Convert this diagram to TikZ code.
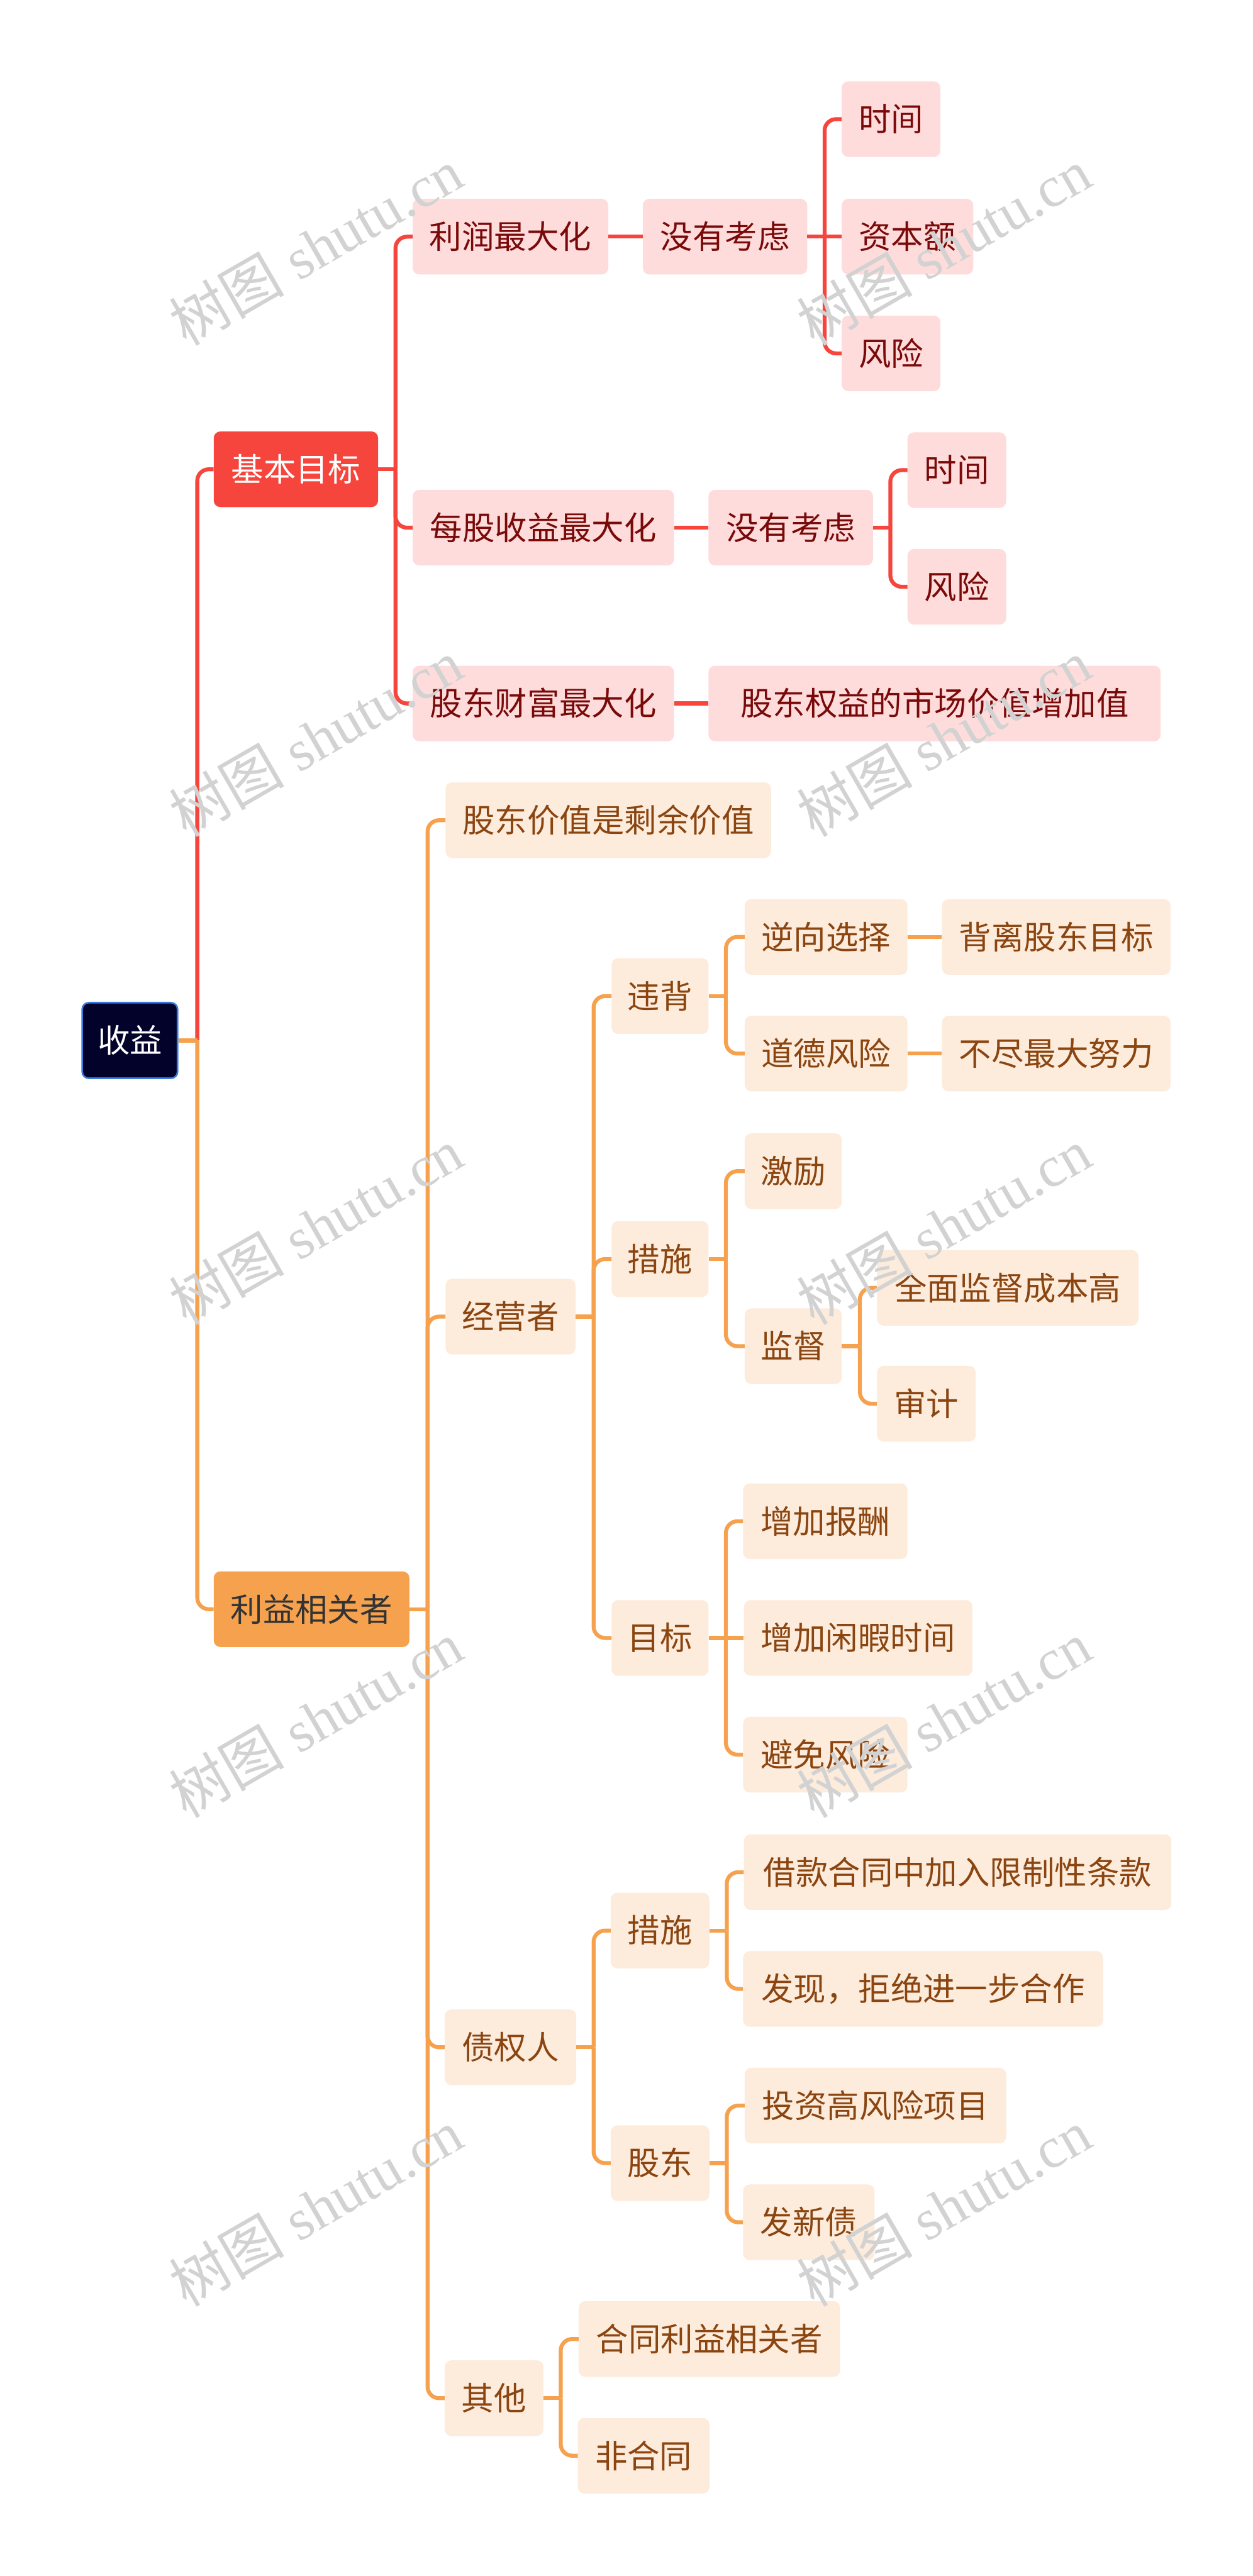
\documentclass[tikz,border=0pt]{standalone}
\usepackage{fontspec}
\newfontfamily\cjk{Noto Sans CJK SC}
\newfontfamily\wmlat{Liberation Serif}
\definecolor{rootfill}{HTML}{02022B}
\definecolor{rootborder}{HTML}{3B7BE0}
\definecolor{redc}{HTML}{F5453D}
\definecolor{pinkfill}{HTML}{FDDCDB}
\definecolor{darkred}{HTML}{7A0A0A}
\definecolor{orangec}{HTML}{F5A14E}
\definecolor{peach}{HTML}{FDEBDC}
\definecolor{browntext}{HTML}{8A4510}
\definecolor{maintext}{HTML}{333333}
\definecolor{wmgray}{HTML}{D2D2D2}
\tikzset{
  base/.style={rounded corners=4mm, minimum height=46mm, inner sep=0pt,
    font=\cjk\fontsize{56}{60}\selectfont, text height=49pt, text depth=7pt},
  rootbox/.style={base, fill=rootfill, draw=rootborder, line width=1mm, text=white},
  redmain/.style={base, fill=redc, text=white},
  pinkbox/.style={base, fill=pinkfill, text=darkred},
  orangemain/.style={base, fill=orangec, text=maintext},
  peachbox/.style={base, fill=peach, text=browntext},
  rline/.style={draw=redc, line width=2.4mm, rounded corners=7mm},
  oline/.style={draw=orangec, line width=2.4mm, rounded corners=7mm},
  wm/.style={text=wmgray, rotate=30, inner sep=0pt},
}
\begin{document}
\begin{tikzpicture}[x=1mm, y=-1mm]
\useasboundingbox (0,0) rectangle (762,1567.2);
% root and main branches
\node[rootbox, minimum width=58mm] (root) at (79,633) {收益};
\node[redmain, minimum width=100mm] (jbmb) at (180,285.5) {基本目标};
\node[orangemain, minimum width=119mm] (lyxg) at (189.5,979) {利益相关者};
% red branch
\node[pinkbox, minimum width=119mm] (lrzd) at (310.5,144) {利润最大化};
\node[pinkbox, minimum width=159mm] (mgsy) at (330.5,321) {每股收益最大化};
\node[pinkbox, minimum width=159mm] (gdcf) at (330.5,428) {股东财富最大化};
\node[pinkbox, minimum width=100mm] (mykl1) at (441,144) {没有考虑};
\node[pinkbox, minimum width=60mm] (sj1) at (542,72.5) {时间};
\node[pinkbox, minimum width=80mm] (zbe) at (552,144) {资本额};
\node[pinkbox, minimum width=60mm] (fx1) at (542,215) {风险};
\node[pinkbox, minimum width=100mm] (mykl2) at (481,321) {没有考虑};
\node[pinkbox, minimum width=60mm] (sj2) at (582,286) {时间};
\node[pinkbox, minimum width=60mm] (fx2) at (582,357) {风险};
\node[pinkbox, minimum width=275mm] (gdqy) at (568.5,428) {股东权益的市场价值增加值};
% orange branch
\node[peachbox, minimum width=198mm] (gdjz) at (370,499) {股东价值是剩余价值};
\node[peachbox, minimum width=79mm] (jyz) at (310.5,801) {经营者};
\node[peachbox, minimum width=80mm] (zqr) at (310.5,1245.5) {债权人};
\node[peachbox, minimum width=60mm] (qt) at (300.5,1459) {其他};
\node[peachbox, minimum width=59mm] (wb) at (401.5,606) {违背};
\node[peachbox, minimum width=59mm] (cs1) at (401.5,766) {措施};
\node[peachbox, minimum width=59mm] (mb) at (401.5,996.5) {目标};
\node[peachbox, minimum width=99mm] (nxxz) at (502.5,570) {逆向选择};
\node[peachbox, minimum width=139mm] (blgd) at (642.5,570) {背离股东目标};
\node[peachbox, minimum width=99mm] (ddfx) at (502.5,641) {道德风险};
\node[peachbox, minimum width=139mm] (bjzd) at (642.5,641) {不尽最大努力};
\node[peachbox, minimum width=59mm] (jl) at (482.5,712.5) {激励};
\node[peachbox, minimum width=59mm] (jd) at (482.5,819) {监督};
\node[peachbox, minimum width=159mm] (qmjd) at (613,783.5) {全面监督成本高};
\node[peachbox, minimum width=60mm] (shj) at (563.5,854) {审计};
\node[peachbox, minimum width=100mm] (zjbc) at (502,925.5) {增加报酬};
\node[peachbox, minimum width=139mm] (zjxx) at (522,996.5) {增加闲暇时间};
\node[peachbox, minimum width=100mm] (bmfx) at (502,1067.5) {避免风险};
\node[peachbox, minimum width=60mm] (cs2) at (401.5,1174.5) {措施};
\node[peachbox, minimum width=60mm] (gd) at (401.5,1316) {股东};
\node[peachbox, minimum width=260mm] (jkht) at (582.5,1139) {借款合同中加入限制性条款};
\node[peachbox, minimum width=219mm] (fxjj) at (561.5,1210) {发现，拒绝进一步合作};
\node[peachbox, minimum width=159mm] (tzgf) at (532.5,1281) {投资高风险项目};
\node[peachbox, minimum width=80mm] (fxz) at (492,1352) {发新债};
\node[peachbox, minimum width=159mm] (htly) at (431.5,1423) {合同利益相关者};
\node[peachbox, minimum width=80mm] (fht) at (391.5,1494) {非合同};
% junction coordinates
\coordinate (T0) at ([xshift=11.5mm]root.east);
\coordinate (T1) at ([xshift=10.5mm]jbmb.east);
\coordinate (T2) at ([xshift=10.5mm]mykl1.east);
\coordinate (T3) at ([xshift=10.5mm]mykl2.east);
\coordinate (T4) at ([xshift=11mm]lyxg.east);
\coordinate (T5) at ([xshift=11mm]jyz.east);
\coordinate (T6) at ([xshift=10.5mm]wb.east);
\coordinate (T7) at ([xshift=10.5mm]cs1.east);
\coordinate (T8) at ([xshift=11mm]jd.east);
\coordinate (T9) at ([xshift=10.5mm]mb.east);
\coordinate (T10) at ([xshift=10.5mm]zqr.east);
\coordinate (T11) at ([xshift=10.5mm]cs2.east);
\coordinate (T12) at ([xshift=10.5mm]gd.east);
\coordinate (T13) at ([xshift=10.5mm]qt.east);
% red connectors
\draw[rline] (T0) |- (jbmb.west);
\draw[rline] (jbmb.east) -- (T1);
\draw[rline] (T1) |- (lrzd.west);
\draw[rline] (T1) |- (mgsy.west);
\draw[rline] (T1) |- (gdcf.west);
\draw[rline] (lrzd.east) -- (mykl1.west);
\draw[rline] (mykl1.east) -- (zbe.west);
\draw[rline] (T2) |- (sj1.west);
\draw[rline] (T2) |- (fx1.west);
\draw[rline] (mgsy.east) -- (mykl2.west);
\draw[rline] (mykl2.east) -- (T3);
\draw[rline] (T3) |- (sj2.west);
\draw[rline] (T3) |- (fx2.west);
\draw[rline] (gdcf.east) -- (gdqy.west);
% orange connectors
\draw[oline] (T0) |- (lyxg.west);
\draw[oline] (root.east) -- (T0);
\draw[oline] (lyxg.east) -- (T4);
\draw[oline] (T4) |- (gdjz.west);
\draw[oline] (T4) |- (jyz.west);
\draw[oline] (T4) |- (zqr.west);
\draw[oline] (T4) |- (qt.west);
\draw[oline] (jyz.east) -- (T5);
\draw[oline] (T5) |- (wb.west);
\draw[oline] (T5) |- (cs1.west);
\draw[oline] (T5) |- (mb.west);
\draw[oline] (wb.east) -- (T6);
\draw[oline] (T6) |- (nxxz.west);
\draw[oline] (T6) |- (ddfx.west);
\draw[oline] (nxxz.east) -- (blgd.west);
\draw[oline] (ddfx.east) -- (bjzd.west);
\draw[oline] (cs1.east) -- (T7);
\draw[oline] (T7) |- (jl.west);
\draw[oline] (T7) |- (jd.west);
\draw[oline] (jd.east) -- (T8);
\draw[oline] (T8) |- (qmjd.west);
\draw[oline] (T8) |- (shj.west);
\draw[oline] (mb.east) -- (zjxx.west);
\draw[oline] (T9) |- (zjbc.west);
\draw[oline] (T9) |- (bmfx.west);
\draw[oline] (zqr.east) -- (T10);
\draw[oline] (T10) |- (cs2.west);
\draw[oline] (T10) |- (gd.west);
\draw[oline] (cs2.east) -- (T11);
\draw[oline] (T11) |- (jkht.west);
\draw[oline] (T11) |- (fxjj.west);
\draw[oline] (gd.east) -- (T12);
\draw[oline] (T12) |- (tzgf.west);
\draw[oline] (T12) |- (fxz.west);
\draw[oline] (qt.east) -- (T13);
\draw[oline] (T13) |- (htly.west);
\draw[oline] (T13) |- (fht.west);
% watermarks
\foreach \wx in {192,574}{
  \foreach \wy in {150,449,746,1046,1343}{
    \node[wm] at (\wx,\wy) {\cjk\fontsize{100}{100}\selectfont 树图\hspace{0.25em}\wmlat shutu.cn};
  }
}
\end{tikzpicture}
\end{document}
